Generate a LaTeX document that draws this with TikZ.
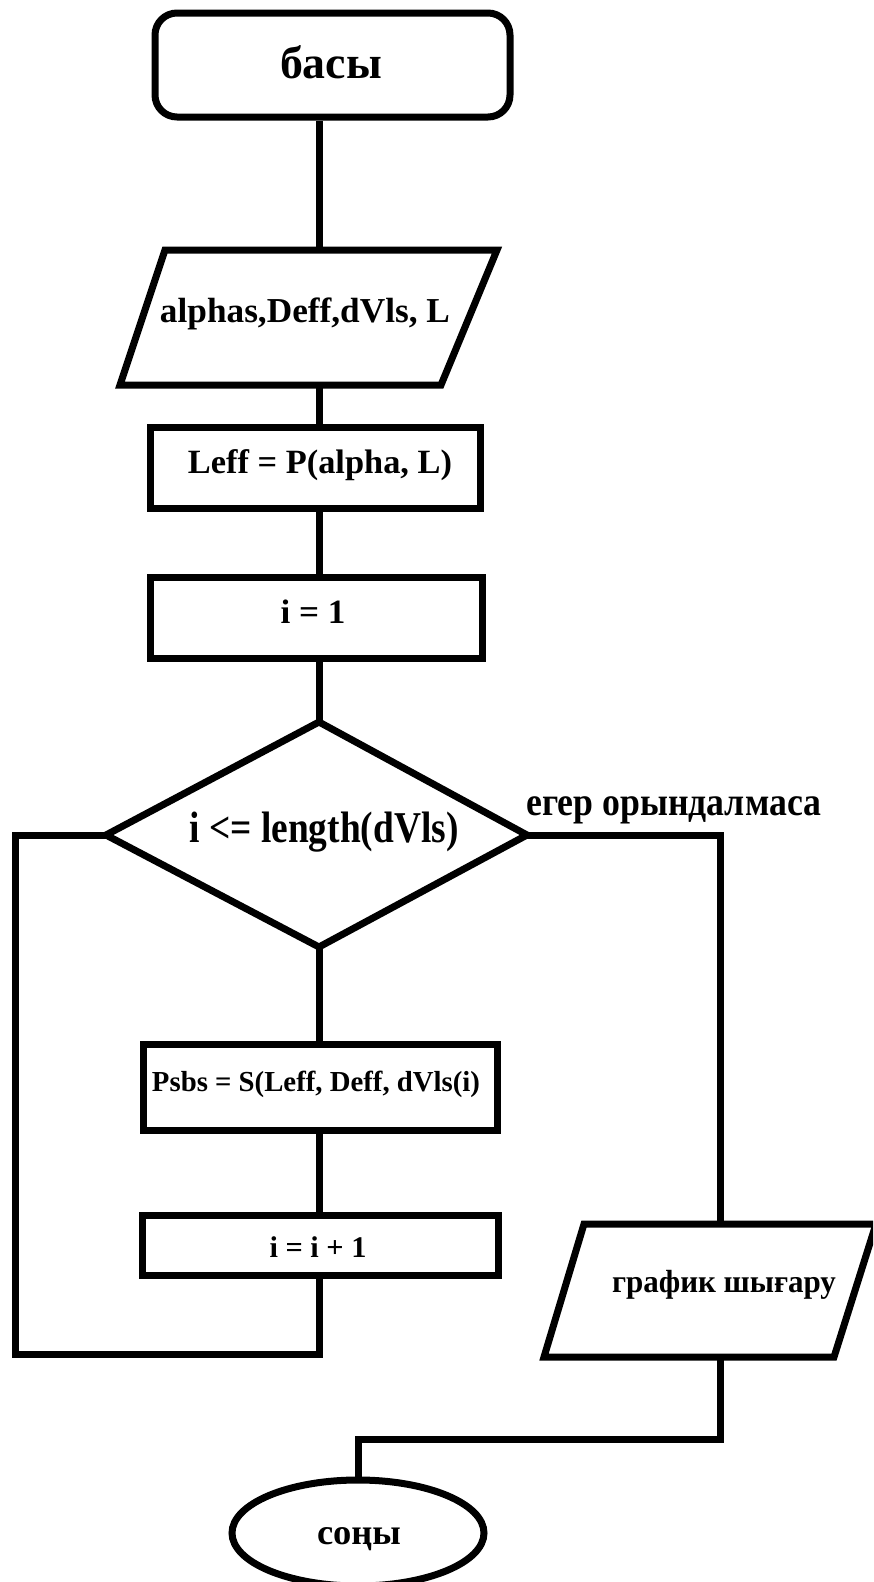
\documentclass[tikz,border=0pt]{standalone}
\usepackage{fontspec}
\setmainfont{Liberation Serif}
\usepackage{graphicx}
\usetikzlibrary{shapes.geometric}
\newcommand\fittxt[3]{\resizebox{#2pt}{\height}{\fontsize{#1pt}{#1pt}\selectfont\bfseries #3}}
\begin{document}
\begin{tikzpicture}[x=1pt,y=-1pt,
  ln/.style={line width=7pt},
  box/.style={draw, line width=7pt, rectangle, inner sep=0pt},
  txt/.style={anchor=base, inner sep=0pt}]
\clip (0,0) rectangle (873,1582);
\fill[white] (0,0) rectangle (873,1582);
\coordinate (sp) at (319,0);
% start
\node[box, rounded corners=22pt, minimum width=355pt, minimum height=104pt] (start) at (332.5,65) {};
\node[txt] (tstart) at (331,78) {\fittxt{46}{102}{басы}};
% input parallelogram
\coordinate (aTL) at (165,250);
\coordinate (aTR) at (497,250);
\coordinate (aBR) at (441,385);
\coordinate (aBL) at (120,385);
\draw[ln] (aTL) -- (aTR) -- (aBR) -- (aBL) -- cycle;
\coordinate (aTop) at (319,250);
\coordinate (aBot) at (319,385);
\node[txt] (talpha) at (305,322) {\fittxt{35}{290}{alphas,Deff,dVls, L}};
% Leff
\node[box, minimum width=330pt, minimum height=81pt] (leff) at (315,467.5) {};
\node[txt] (tleff) at (320,473) {\fittxt{34}{264}{Leff = P(alpha, L)}};
% i = 1
\node[box, minimum width=332pt, minimum height=81pt] (init) at (316,617.5) {};
\node[txt] (tinit) at (313,623) {\fittxt{34}{65}{i = 1}};
% diamond
\coordinate (dT) at (319,722);
\coordinate (dR) at (527,835);
\coordinate (dB) at (319,947);
\coordinate (dL) at (106,835);
\draw[ln] (dT) -- (dR) -- (dB) -- (dL) -- cycle;
\node[txt] (tdia) at (324,842) {\fittxt{44}{269}{i <= length(dVls)}};
\node[anchor=base west, inner sep=0pt] (tno) at (526,815) {\fittxt{40}{295}{егер орындалмаса}};
% Psbs
\node[box, minimum width=354pt, minimum height=86pt] (psbs) at (320,1087) {};
\node[txt] (tpsbs) at (316,1091) {\fittxt{29}{328}{Psbs = S(Leff, Deff, dVls(i)}};
% i = i + 1
\node[box, minimum width=356pt, minimum height=60pt] (inc) at (320,1245) {};
\node[txt] (tinc) at (318,1257) {\fittxt{30}{97}{i = i + 1}};
% output parallelogram
\coordinate (oTL) at (584,1224);
\coordinate (oTR) at (876,1224);
\coordinate (oBR) at (834,1357);
\coordinate (oBL) at (544,1357);
\draw[ln] (oTL) -- (oTR) -- (oBR) -- (oBL) -- cycle;
\coordinate (oTop) at (720,1224);
\coordinate (oBot) at (720,1357);
\node[txt] (tout) at (724,1292) {\fittxt{32}{224}{график шығару}};
% end
\node[draw, ellipse, line width=7pt, inner sep=0pt, minimum width=252pt, minimum height=106pt] (end) at (358,1533) {};
\node[txt] (tend) at (359,1544) {\fittxt{36}{84}{соңы}};
% loop / branch coordinates
\coordinate (loopBR) at (319,1354);
\coordinate (loopBL) at (15,1354);
\coordinate (loopTL) at (15,835);
\coordinate (rTR) at (720,835);
\coordinate (jR) at (720,1439);
\coordinate (jL) at (358,1439);
% connectors
\draw[ln] (start.south -| sp) -- (aTop);
\draw[ln] (aBot) -- (leff.north -| sp);
\draw[ln] (leff.south -| sp) -- (init.north -| sp);
\draw[ln] (init.south -| sp) -- (dT);
\draw[ln] (dB) -- (psbs.north -| sp);
\draw[ln] (psbs.south -| sp) -- (inc.north -| sp);
\draw[ln] (inc.south -| sp) -- (loopBR) -- (loopBL) -- (loopTL) -- (dL);
\draw[ln] (dR) -- (rTR) -- (oTop);
\draw[ln] (oBot) -- (jR) -- (jL) -- (end.north);
\end{tikzpicture}
\end{document}
